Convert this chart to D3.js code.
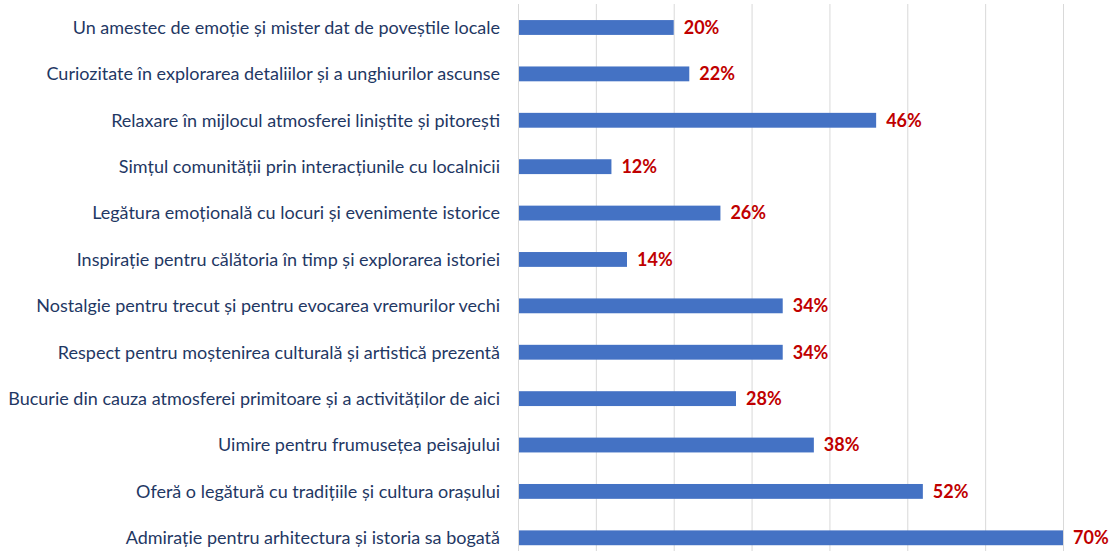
<!DOCTYPE html>
<html>
<head>
<meta charset="utf-8">
<script src="https://cdn.jsdelivr.net/npm/d3@7"></script>
<style>
  body { margin: 0; background: #fff; }
  svg { display: block; }
</style>
</head>
<body>
<div id="chart"></div>
<script>
// categories, top to bottom
const categories = [
  "Un amestec de emoție și mister dat de poveștile locale",
  "Curiozitate în explorarea detaliilor și a unghiurilor ascunse",
  "Relaxare în mijlocul atmosferei liniștite și pitorești",
  "Simțul comunității prin interacțiunile cu localnicii",
  "Legătura emoțională cu locuri și evenimente istorice",
  "Inspirație pentru călătoria în timp și explorarea istoriei",
  "Nostalgie pentru trecut și pentru evocarea vremurilor vechi",
  "Respect pentru moștenirea culturală și artistică prezentă",
  "Bucurie din cauza atmosferei primitoare și a activităților de aici",
  "Uimire pentru frumusețea peisajului",
  "Oferă o legătură cu tradițiile și cultura orașului",
  "Admirație pentru arhitectura și istoria sa bogată"
];
const values = [20, 22, 46, 12, 26, 14, 34, 34, 28, 38, 52, 70];
const gridTicks = [0, 10, 20, 30, 40, 50, 60, 70];
const title = "Ce sentimente vă generează vizitarea centrului istoric? (răspuns multiplu)";

const width = 1113, height = 551;

const svg = d3.select("#chart").append("svg")
    .attr("width", width).attr("height", height);

const x = d3.scaleLinear().domain([0, 70]).range([518, 1063]);
const y = d3.scaleBand().domain(categories).range([4.3, 561]).paddingInner(0.68).paddingOuter(0.34);

// title (cut off at top, only descenders show)
svg.append("text")
    .attr("x", 900).attr("y", -4)
    .attr("text-anchor", "end")
    .style("font-family", "Lato, 'Open Sans', sans-serif")
    .style("font-weight", "bold")
    .style("font-size", "22px")
    .style("fill", "#1F3864")
    .text(title);

// gridlines
svg.selectAll("line.grid").data(gridTicks).enter()
  .append("line").attr("class", "grid")
    .attr("x1", d => x(d) + 0.5).attr("x2", d => x(d) + 0.5)
    .attr("y1", 4).attr("y2", height)
    .style("stroke", "#D9D9D9").style("stroke-width", 1);

// bars
svg.selectAll("rect.bar").data(values).enter()
  .append("rect").attr("class", "bar")
    .attr("x", x(0) + 1)
    .attr("y", (d, i) => y(categories[i]))
    .attr("width", d => x(d) - x(0) - 1)
    .attr("height", y.bandwidth())
    .style("fill", "#4472C4");

// category labels
svg.selectAll("text.cat").data(categories).enter()
  .append("text").attr("class", "cat")
    .attr("x", 500)
    .attr("y", d => y(d) + y.bandwidth() / 2)
    .attr("dy", "0.35em")
    .attr("text-anchor", "end")
    .style("font-family", "Lato, 'Open Sans', sans-serif")
    .style("font-size", "18px")
    .style("fill", "#1F3864")
    .text(d => d);

// value labels
svg.selectAll("text.val").data(values).enter()
  .append("text").attr("class", "val")
    .attr("x", d => x(d) + 10)
    .attr("y", (d, i) => y(categories[i]) + y.bandwidth() / 2)
    .attr("dy", "0.35em")
    .style("font-family", "Lato, 'Open Sans', sans-serif")
    .style("font-weight", "bold")
    .style("font-size", "18px")
    .style("fill", "#C00000")
    .text(d => d + "%");
</script>
</body>
</html>
